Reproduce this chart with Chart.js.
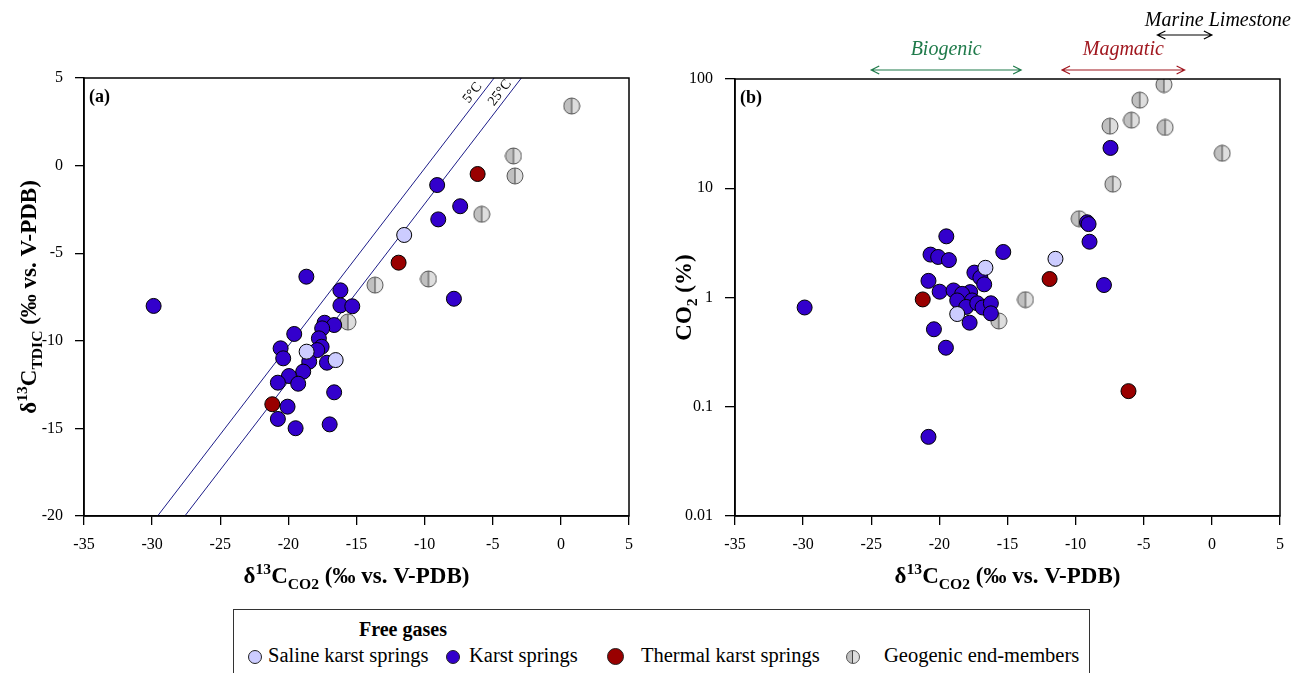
<!DOCTYPE html>
<html>
<head>
<meta charset="utf-8">
<script src="https://cdn.jsdelivr.net/npm/chart.js@4.4.0/dist/chart.umd.min.js"></script>
<style>
  body { margin: 0; background: #fff; width: 1303px; height: 673px; overflow: hidden; position: relative;
         font-family: "Liberation Serif", "Times New Roman", serif; }
  #chartA { position: absolute; left: 0; top: 0; }
  #chartB { position: absolute; left: 650px; top: 0; }
  .legend { position: absolute; left: 233px; top: 609px; width: 855px; height: 90px; border: 1px solid #333; }
  .legend .ttl { position: absolute; left: 125px; top: 8px; font-weight: bold; font-size: 20px; }
  .legend .txt { position: absolute; top: 34px; font-size: 20.5px; white-space: nowrap; }
  .legend .mk { position: absolute; border: 1px solid #222; border-radius: 50%; box-sizing: border-box; }
</style>
</head>
<body>
<canvas id="chartA" width="650" height="600"></canvas>
<canvas id="chartB" width="653" height="600"></canvas>

<div class="legend">
  <div class="ttl">Free gases</div>
  <div class="mk" style="left:14px;top:40px;width:14px;height:14px;background:#ccccff"></div>
  <div class="txt" style="left:34px">Saline karst springs</div>
  <div class="mk" style="left:212px;top:40px;width:14px;height:14px;background:#3300cc"></div>
  <div class="txt" style="left:235px">Karst springs</div>
  <div class="mk" style="left:373px;top:38px;width:17px;height:17px;background:#990000"></div>
  <div class="txt" style="left:407px">Thermal karst springs</div>
  <div class="mk" style="left:612px;top:40px;width:14px;height:14px;border-color:#555;background:linear-gradient(90deg,#c0c0c0 0 5.5px,#444 5.5px 6.5px,#dedede 6.5px)"></div>
  <div class="txt" style="left:650px">Geogenic end-members</div>
</div>

<script>
  // ---- data ----
  // (a) d13C_CO2 vs d13C_TDIC
  const karstA = [[-29.89,-8.01],[-9.08,-1.11],[-7.39,-2.32],[-9.0,-3.07],[-7.85,-7.6],[-18.68,-6.34],
    [-16.18,-7.12],[-16.18,-7.98],[-15.31,-8.03],[-17.34,-8.97],[-16.64,-9.1],[-17.52,-9.29],[-19.57,-9.61],
    [-17.76,-9.86],[-17.56,-10.34],[-17.88,-10.53],[-20.57,-10.43],[-20.38,-11.0],[-17.17,-11.25],[-18.47,-11.19],
    [-18.91,-11.76],[-19.96,-12.01],[-20.77,-12.39],[-19.28,-12.45],[-16.64,-12.94],[-20.06,-13.76],
    [-20.77,-14.46],[-19.47,-14.99],[-16.97,-14.77]];
  const salineA = [[-11.5,-3.96],[-18.66,-10.62],[-16.53,-11.1]];
  const thermalA = [[-6.11,-0.48],[-11.91,-5.54],[-21.18,-13.62]];
  const geoA = [[0.79,3.40],[-3.48,0.55],[-3.37,-0.59],[-5.81,-2.78],[-9.72,-6.47],[-13.64,-6.82],[-15.63,-8.93]];
  // equilibrium lines (CO2 -> TDIC)
  const line5C = [[-29.6,-20],[-4.9,5]];
  const line25C = [[-27.6,-20],[-2.9,5]];

  // (b) d13C_CO2 vs CO2 %
  const karstB = [[-29.89,0.81],[-7.44,23.4],[-9.16,4.88],[-9.05,4.7],[-8.98,3.24],[-7.92,1.30],[-15.31,2.61],
    [-19.49,3.63],[-20.65,2.47],[-20.09,2.35],[-19.30,2.20],[-20.80,1.42],[-19.98,1.13],[-17.43,1.69],
    [-16.99,1.52],[-16.71,1.32],[-18.96,1.16],[-17.74,1.12],[-18.33,1.08],[-18.69,0.94],[-17.6,0.94],
    [-18.03,0.82],[-17.22,0.885],[-16.83,0.81],[-16.22,0.885],[-16.22,0.716],[-17.78,0.588],[-20.4,0.512],
    [-19.52,0.347],[-20.8,0.053]];
  const salineB = [[-11.48,2.26],[-16.62,1.87],[-18.69,0.706]];
  const thermalB = [[-21.22,0.96],[-11.91,1.476],[-6.12,0.139]];
  const geoB = [[-3.52,89],[-5.29,64],[-5.9,42],[-7.48,37],[-3.43,36],[0.76,20.9],[-7.27,10.9],
    [-9.74,5.26],[-13.68,0.955],[-15.64,0.61]];
  const logTicks = [0.01, 0.1, 1, 10, 100];

  // source ranges drawn above panel (b)
  const biogenicRange = [-25, -14];
  const magmaticRange = [-11, -2];
  const marineRange = [-4, 0];

  const FONT = '"Liberation Serif", "Times New Roman", serif';
  const toXY = arr => arr.map(p => ({ x: p[0], y: p[1] }));

  // half-shaded marker for the geogenic end-members
  function geoMarker(r) {
    const c = document.createElement('canvas');
    const s = 2 * r + 2;
    c.width = s; c.height = s;
    const g = c.getContext('2d');
    const m = s / 2;
    g.fillStyle = '#c0c0c0';
    g.beginPath(); g.arc(m, m, r, Math.PI / 2, Math.PI * 1.5); g.fill();
    g.fillStyle = '#dedede';
    g.beginPath(); g.arc(m, m, r, -Math.PI / 2, Math.PI / 2); g.fill();
    g.strokeStyle = '#444'; g.lineWidth = 1;
    g.beginPath(); g.moveTo(m, m - r); g.lineTo(m, m + r); g.stroke();
    g.strokeStyle = '#555';
    g.beginPath(); g.arc(m, m, r, 0, Math.PI * 2); g.stroke();
    return c;
  }
  const geoStyle = geoMarker(8);

  function pts(data, color, order) {
    return { data: toXY(data), backgroundColor: color, borderColor: '#000', borderWidth: 1,
             pointRadius: 7.5, pointHoverRadius: 7.5, order: order };
  }
  function geoSet(data) {
    return { data: toXY(data), pointStyle: geoStyle, pointRadius: 8, pointHoverRadius: 8, order: 4 };
  }

  // text with super/subscripts
  function richText(ctx, parts, x, y, size) {
    const font = s => 'bold ' + s + 'px ' + FONT;
    let w = 0;
    const m = parts.map(([t, k]) => {
      const s = k ? size * 0.68 : size;
      ctx.font = font(s);
      const pw = ctx.measureText(t).width;
      w += pw;
      return { t, k, s, pw };
    });
    let cx = x - w / 2;
    ctx.textAlign = 'left';
    ctx.textBaseline = 'alphabetic';
    m.forEach(p => {
      ctx.font = font(p.s);
      const dy = p.k === 'sup' ? -size * 0.4 : p.k === 'sub' ? size * 0.24 : 0;
      ctx.fillText(p.t, cx, y + dy);
      cx += p.pw;
    });
  }

  const xTitle = [['δ', ''], ['13', 'sup'], ['C', ''], ['CO2', 'sub'], [' (‰ vs. V-PDB)', '']];

  function frameAndTitles(label, yTitle, yTitleX) {
    return {
      id: 'frame' + label,
      afterDraw(chart) {
        const { ctx, chartArea: a } = chart;
        ctx.save();
        ctx.strokeStyle = '#000';
        ctx.lineWidth = 1.5;
        ctx.strokeRect(a.left, a.top, a.right - a.left, a.bottom - a.top);
        ctx.fillStyle = '#000';
        ctx.font = 'bold 18px ' + FONT;
        ctx.textAlign = 'left';
        ctx.textBaseline = 'alphabetic';
        ctx.fillText(label, a.left + 5, a.top + 24);
        richText(ctx, xTitle, (a.left + a.right) / 2, 583, 23);
        ctx.translate(yTitleX, (a.top + a.bottom) / 2);
        ctx.rotate(-Math.PI / 2);
        richText(ctx, yTitle, 0, 0, 23);
        ctx.restore();
      }
    };
  }

  function axisX() {
    return {
      type: 'linear', min: -35, max: 5,
      ticks: { stepSize: 5, color: '#000', font: { family: FONT, size: 16 }, padding: 10 },
      grid: { drawOnChartArea: false, color: '#000', lineWidth: 1.3, tickLength: 9 },
      border: { color: '#000', width: 1.5 },
      afterFit: s => { s.height = 84; }
    };
  }

  // ---- panel (a) ----
  const lineLabels = {
    id: 'lineLabels',
    afterDatasetsDraw(chart) {
      const { ctx, scales: { x, y } } = chart;
      ctx.save();
      ctx.fillStyle = '#000';
      ctx.font = '14px ' + FONT;
      ctx.textAlign = 'center';
      ctx.textBaseline = 'bottom';
      [[line5C, '5°C'], [line25C, '25°C']].forEach(([ln, txt]) => {
        const x0 = x.getPixelForValue(ln[0][0]), y0 = y.getPixelForValue(ln[0][1]);
        const x1 = x.getPixelForValue(ln[1][0]), y1 = y.getPixelForValue(ln[1][1]);
        const ang = Math.atan2(y1 - y0, x1 - x0);
        const t = 0.955;
        ctx.save();
        ctx.translate(x0 + (x1 - x0) * t, y0 + (y1 - y0) * t);
        ctx.rotate(ang);
        ctx.fillText(txt, 0, -1);
        ctx.restore();
      });
      ctx.restore();
    }
  };

  new Chart(document.getElementById('chartA'), {
    type: 'scatter',
    data: {
      datasets: [
        pts(salineA, '#ccccff', 1),
        pts(thermalA, '#990000', 2),
        pts(karstA, '#3300cc', 3),
        geoSet(geoA),
        { type: 'line', data: toXY(line5C), borderColor: '#1c1c88', borderWidth: 1, pointRadius: 0, showLine: true, order: 5 },
        { type: 'line', data: toXY(line25C), borderColor: '#1c1c88', borderWidth: 1, pointRadius: 0, showLine: true, order: 5 }
      ]
    },
    options: {
      responsive: false, animation: false,
      layout: { padding: { left: 0, right: 21, top: 78, bottom: 0 } },
      plugins: { legend: { display: false }, tooltip: { enabled: false } },
      scales: {
        x: axisX(),
        y: {
          type: 'linear', min: -20, max: 5,
          ticks: { stepSize: 5, color: '#000', font: { family: FONT, size: 16 }, padding: 12 },
          grid: { drawOnChartArea: false, color: '#000', lineWidth: 1.3, tickLength: 9 },
          border: { color: '#000', width: 1.5 },
          afterFit: s => { s.width = 84; }
        }
      }
    },
    plugins: [frameAndTitles('(a)', [['δ', ''], ['13', 'sup'], ['C', ''], ['TDIC', 'sub'], [' (‰ vs. V-PDB)', '']], 36), lineLabels]
  });

  // ---- panel (b) ----
  const sourceRanges = {
    id: 'sourceRanges',
    afterDraw(chart) {
      const { ctx, scales: { x } } = chart;
      function arrow(r, yy, color) {
        const a = x.getPixelForValue(r[0]), b = x.getPixelForValue(r[1]);
        ctx.strokeStyle = color;
        ctx.lineWidth = 1.2;
        ctx.beginPath();
        ctx.moveTo(a, yy); ctx.lineTo(b, yy);
        ctx.moveTo(a + 8, yy - 4); ctx.lineTo(a, yy); ctx.lineTo(a + 8, yy + 4);
        ctx.moveTo(b - 8, yy - 4); ctx.lineTo(b, yy); ctx.lineTo(b - 8, yy + 4);
        ctx.stroke();
      }
      function label(px, yy, txt, color) {
        ctx.fillStyle = color;
        ctx.font = 'italic 20px ' + FONT;
        ctx.textAlign = 'center';
        ctx.textBaseline = 'alphabetic';
        ctx.fillText(txt, px, yy);
      }
      const mid = r => (x.getPixelForValue(r[0]) + x.getPixelForValue(r[1])) / 2;
      ctx.save();
      arrow(biogenicRange, 70, '#1f7a4a');
      label(mid(biogenicRange), 55, 'Biogenic', '#1f7a4a');
      arrow(magmaticRange, 70, '#a0161e');
      label(mid(magmaticRange), 55, 'Magmatic', '#a0161e');
      arrow(marineRange, 35, '#000');
      label(x.getPixelForValue(marineRange[1]) + 6, 26, 'Marine Limestone', '#000');
      ctx.restore();
    }
  };

  new Chart(document.getElementById('chartB'), {
    type: 'scatter',
    data: {
      datasets: [
        pts(salineB, '#ccccff', 1),
        pts(thermalB, '#990000', 2),
        pts(karstB, '#3300cc', 3),
        geoSet(geoB)
      ]
    },
    options: {
      responsive: false, animation: false,
      layout: { padding: { left: 0, right: 23, top: 79, bottom: 0 } },
      plugins: { legend: { display: false }, tooltip: { enabled: false } },
      scales: {
        x: axisX(),
        y: {
          type: 'logarithmic', min: 0.01, max: 100,
          afterBuildTicks: s => { s.ticks = logTicks.map(v => ({ value: v })); },
          ticks: { color: '#000', font: { family: FONT, size: 16 }, padding: 12,
                   callback: v => String(v) },
          grid: { drawOnChartArea: false, color: '#000', lineWidth: 1.3, tickLength: 10 },
          border: { color: '#000', width: 1.5 },
          afterFit: s => { s.width = 85; }
        }
      }
    },
    plugins: [frameAndTitles('(b)', [['CO', ''], ['2', 'sub'], [' (%)', '']], 41), sourceRanges]
  });
</script>
</body>
</html>
